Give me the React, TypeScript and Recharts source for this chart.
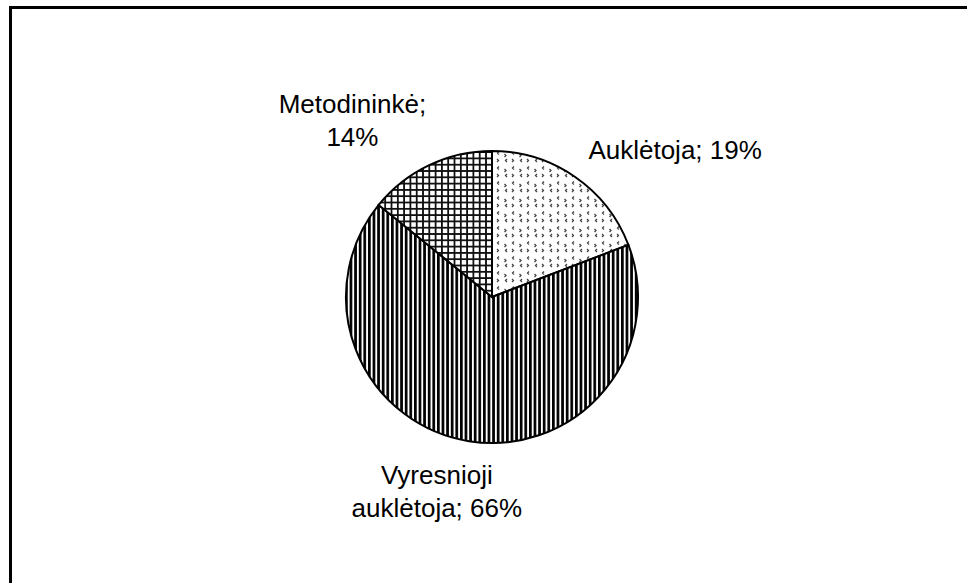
import * as React from 'react';
import { PieChart, Pie, Cell } from 'recharts';

// slices clockwise from 12 o'clock
const NAMES = ['Auklėtoja', 'Vyresnioji auklėtoja', 'Metodininkė'];
const VALUES = [19, 66, 14];
const FILLS = ['url(#dots)', 'url(#vstripes)', 'url(#grid)'];

const FONT = '"Liberation Sans", Arial, Helvetica, sans-serif';
const FONT_SIZE = 26;
const LINE_HEIGHT = 33;
const CAP = 19;
const WRAP_WIDTH = 185;

const chartData = NAMES.map((name, i) => ({ name, value: VALUES[i] }));

let ctx: CanvasRenderingContext2D | null = null;
function measure(text: string) {
  if (!ctx) {
    ctx = document.createElement('canvas').getContext('2d');
    if (ctx) ctx.font = `${FONT_SIZE}px ${FONT}`;
  }
  return ctx ? ctx.measureText(text).width : text.length * FONT_SIZE * 0.5;
}

// word wrap like the spreadsheet does
function wrap(text: string) {
  const words = text.split(' ');
  const lines: string[] = [];
  let cur = '';
  words.forEach((w) => {
    const next = cur ? cur + ' ' + w : w;
    if (cur && measure(next) > WRAP_WIDTH) {
      lines.push(cur);
      cur = w;
    } else {
      cur = next;
    }
  });
  if (cur) lines.push(cur);
  return lines;
}

function renderLabel(props: any) {
  const { cx, cy, midAngle, outerRadius, index } = props;
  const RAD = Math.PI / 180;
  const c = Math.cos(midAngle * RAD);
  const s = Math.sin(midAngle * RAD);
  const r = outerRadius + 24;
  const ax = cx + r * c;
  const ay = cy - r * s;
  const lines = wrap(`${NAMES[index]}; ${VALUES[index]}%`);
  const w = Math.max(...lines.map(measure));
  const h = (lines.length - 1) * LINE_HEIGHT + CAP;
  // push box away from the pie, sideways more when the slice points sideways
  const side = Math.sign(c) * Math.min(1, Math.abs(c) * 2.1);
  const bx = ax + (side * w) / 2;
  const by = ay - (s * h) / 2;
  const y0 = by - h / 2 + CAP;
  return (
    <text
      key={`lbl-${index}`}
      x={bx}
      y={y0}
      textAnchor="middle"
      fill="#000"
      style={{ fontFamily: FONT, fontSize: FONT_SIZE }}
    >
      {lines.map((ln, i) => (
        <tspan key={i} x={bx} y={y0 + i * LINE_HEIGHT}>
          {ln}
        </tspan>
      ))}
    </text>
  );
}

export default function App() {
  return (
    <div
      style={{
        position: 'fixed',
        left: 0,
        top: 0,
        width: 967,
        height: 583,
        overflow: 'hidden',
        background: '#fff',
      }}
    >
      {/* chart area frame, runs off the right and bottom edge */}
      <div
        style={{
          position: 'absolute',
          left: 9,
          top: 6,
          width: 1200,
          height: 900,
          borderLeft: '3px solid #000',
          borderTop: '3px solid #000',
        }}
      />
      <div style={{ position: 'absolute', left: 0, top: 0 }}>
        <PieChart width={967} height={583} margin={{ top: 0, right: 0, bottom: 0, left: 0 }}>
          <defs>
            <pattern id="vstripes" width="4.6" height="10" patternUnits="userSpaceOnUse">
              <rect width="4.6" height="10" fill="#fff" />
              <rect x="0" width="2.7" height="10" fill="#000" />
            </pattern>
            <pattern id="grid" width="6.3" height="6.3" patternUnits="userSpaceOnUse">
              <rect width="6.3" height="6.3" fill="#fff" />
              <rect x="0" y="0" width="1.8" height="6.3" fill="#111" />
              <rect x="0" y="0" width="6.3" height="1.8" fill="#111" />
            </pattern>
            <pattern id="dots" width="15" height="15" patternUnits="userSpaceOnUse">
              <rect width="15" height="15" fill="#fff" />
              <path d="M4,1.5 L2.5,3 L4,4.5" stroke="#444" strokeWidth="1.3" fill="none" />
              <path d="M9.5,4 L11,5.5 L9.5,7" stroke="#444" strokeWidth="1.3" fill="none" />
              <path d="M2,9 L3.5,10.5 L2,12" stroke="#444" strokeWidth="1.3" fill="none" />
              <path d="M12,9 L10.5,10.5 L12,12" stroke="#444" strokeWidth="1.3" fill="none" />
            </pattern>
          </defs>
          <Pie
            data={chartData}
            dataKey="value"
            nameKey="name"
            cx={492}
            cy={297}
            outerRadius={146}
            startAngle={90}
            endAngle={-270}
            stroke="#000"
            strokeWidth={2}
            label={renderLabel}
            labelLine={false}
            isAnimationActive={false}
          >
            {chartData.map((d, i) => (
              <Cell key={d.name} fill={FILLS[i]} />
            ))}
          </Pie>
        </PieChart>
      </div>
    </div>
  );
}
